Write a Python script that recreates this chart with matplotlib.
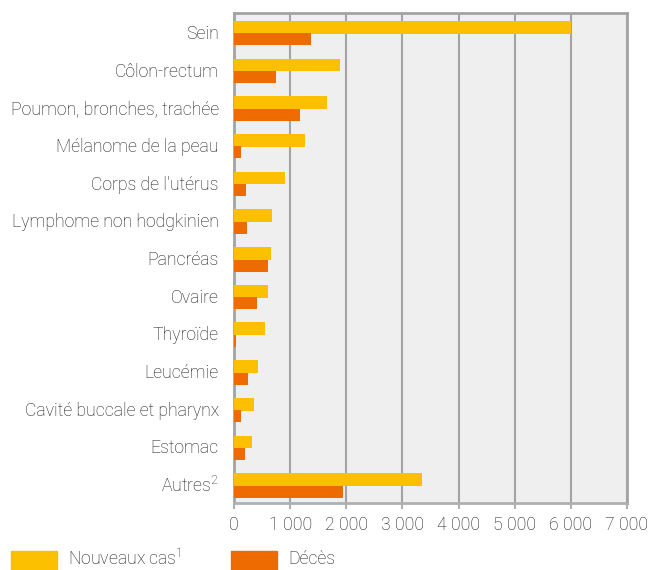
import matplotlib
matplotlib.use("Agg")
import matplotlib.pyplot as plt
from matplotlib.patches import Rectangle
import numpy as np

plt.rcParams['font.family'] = ['Roboto', 'DejaVu Sans']
plt.rcParams['font.weight'] = 'light'

categories = ["Sein", "Côlon-rectum", "Poumon, bronches, trachée", "Mélanome de la peau",
              "Corps de l'utérus", "Lymphome non hodgkinien", "Pancréas", "Ovaire",
              "Thyroïde", "Leucémie", "Cavité buccale et pharynx", "Estomac", "Autres$^{2}$"]
nouveaux_cas = [6000, 1890, 1650, 1260, 910, 680, 660, 600, 550, 430, 360, 320, 3345]
deces = [1370, 750, 1170, 125, 210, 230, 600, 410, 35, 250, 125, 200, 1940]
xticks = [0, 1000, 2000, 3000, 4000, 5000, 6000, 7000]
xticklabels = ["0", "1 000", "2 000", "3 000", "4 000", "5 000", "6 000", "7 000"]

c_new = "#FDC000"
c_dec = "#EE6B02"
txt = "#1A1A1A"
grid = "#A3A3A3"
fs = 12.7

plt.rcParams['mathtext.fontset'] = 'custom'
plt.rcParams['mathtext.rm'] = 'Roboto:light'

fig = plt.figure(figsize=(6.51, 5.70), dpi=100)
ax = fig.add_axes([234/651, 1-503/570, (627-234)/651, (503-13)/570])
ax.set_facecolor("#EFEFEF")

n = len(categories)
y = np.arange(n)
h = 0.34
ax.barh(y - h/2 + 0.05, nouveaux_cas, height=h, color=c_new, zorder=3)
ax.barh(y + h/2 + 0.03, deces, height=h - 0.02, color=c_dec, zorder=3)

ax.set_ylim(n - 0.5, -0.5)
ax.set_xlim(0, 7000)
ax.set_xticks(xticks)
ax.set_xticklabels(xticklabels, fontsize=fs, color=txt, fontweight='light')
ax.set_yticks(y)
ax.set_yticklabels(categories, fontsize=fs, color=txt, fontweight='light')
ax.tick_params(axis='y', length=0, pad=11)
ax.tick_params(axis='x', length=4, width=1.5, color="#B0B0B0", pad=5)
ax.xaxis.grid(True, color=grid, linewidth=1.5, zorder=1)
for s in ax.spines.values():
    s.set_color(grid)
    s.set_linewidth(2)
ax.spines['bottom'].set_color("#B0B0B0")
ax.set_axisbelow(True)

# legend
fig.add_artist(Rectangle((11/651, 0), 46/651, (570-551)/570, transform=fig.transFigure,
                         color=c_new))
fig.text(68/651, (570-559)/570, "Nouveaux cas$^{1}$", fontsize=fs, color=txt, va='center',
         fontweight='light')
fig.add_artist(Rectangle((231/651, 0), 46/651, (570-551)/570, transform=fig.transFigure,
                         color=c_dec))
fig.text(288/651, (570-559)/570, "Décès", fontsize=fs, color=txt, va='center',
         fontweight='light')

fig.savefig("out.png", dpi=100)
